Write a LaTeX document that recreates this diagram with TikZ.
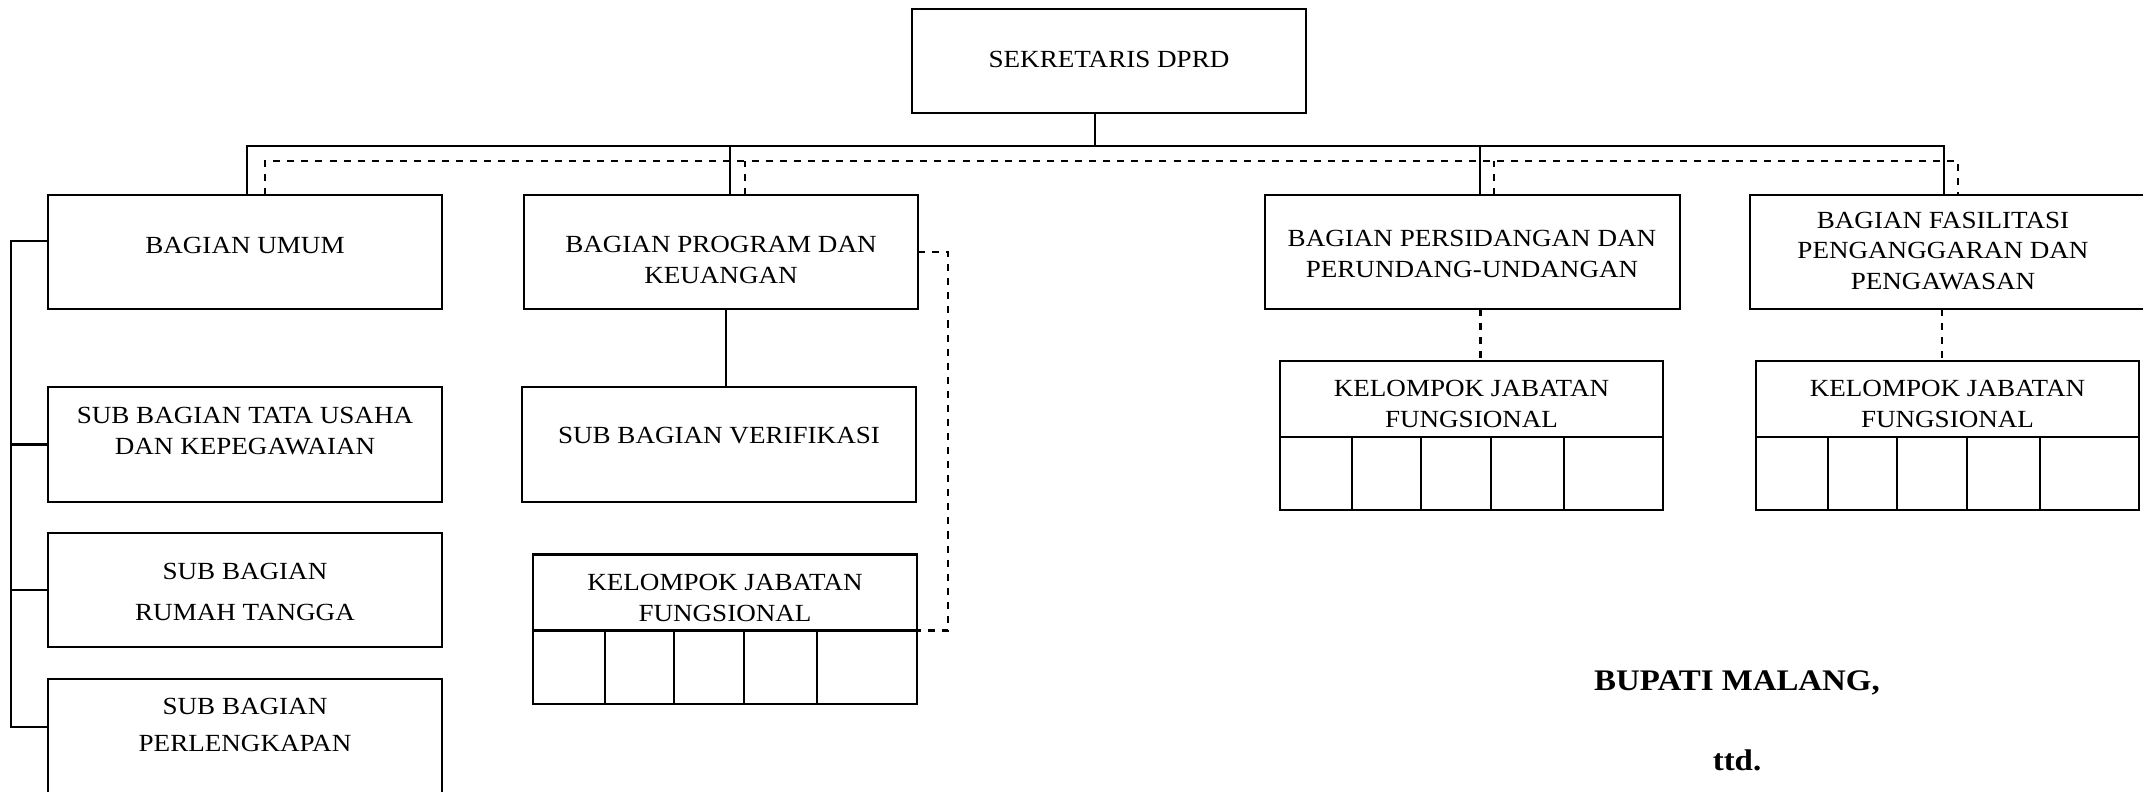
\documentclass[tikz,border=0pt]{standalone}
\usepackage{fontspec}
\setmainfont{Liberation Serif}[FakeStretch=1.1]
\begin{document}
\begin{tikzpicture}[x=0.01cm, y=-0.01cm, line width=0.6pt,
    box/.style={draw, inner sep=0pt, outer sep=0pt},
    txt/.style={inner sep=0pt, align=center, font=\fontsize{7}{8.8}\selectfont},
    tandatangan/.style={inner sep=0pt, font=\fontsize{8.5}{10}\selectfont\bfseries},
    garisputus/.style={dash pattern=on 2pt off 2pt}]
    \useasboundingbox (0,0) rectangle (2143,791);
    % kotak
    \node[box, minimum width=3.94cm, minimum height=1.04cm] (sek) at (1109,61) {};
    \node[box, minimum width=3.94cm, minimum height=1.14cm] (umum) at (245,252) {};
    \node[box, minimum width=3.94cm, minimum height=1.14cm] (prog) at (721,252) {};
    \node[box, minimum width=4.15cm, minimum height=1.14cm] (sidang) at (1472.5,252) {};
    \node[box, minimum width=4.00cm, minimum height=1.14cm] (fasil) at (1950,252) {};
    \node[box, minimum width=3.94cm, minimum height=1.15cm] (tata) at (245,444.5) {};
    \node[box, minimum width=3.94cm, minimum height=1.15cm] (verif) at (719,444.5) {};
    \node[box, minimum width=3.94cm, minimum height=1.14cm] (rumah) at (245,590) {};
    \node[box, minimum width=3.94cm, minimum height=1.22cm] (lengkap) at (245,740) {};
    \foreach \n/\x/\y in {kel1/725/592.5, kel2/1471.5/399, kel3/1947.5/399} {
        \node[box, minimum width=3.83cm, minimum height=0.76cm] (\n) at (\x,\y) {};
        \node[box, minimum width=3.83cm, minimum height=0.73cm, anchor=north] (r\n) at (\n.south) {};
        \node[txt] (t\n) at (\x,\y+5) {KELOMPOK JABATAN\\FUNGSIONAL};
        \foreach \d in {72,141,211,284}
            \draw (r\n.north west) ++(\d,0) -- ++(0,73);
    }
    % teks
    \node[txt] (tsek) at (1109,59) {SEKRETARIS DPRD};
    \node[txt] (tumum) at (245,245) {BAGIAN UMUM};
    \node[txt] (tprog) at (721,260) {BAGIAN PROGRAM DAN\\KEUANGAN};
    \node[txt] (tsidang) at (1472,254) {BAGIAN PERSIDANGAN DAN\\PERUNDANG-UNDANGAN};
    \node[txt] (tfasil) at (1943,251) {BAGIAN FASILITASI\\PENGANGGARAN DAN\\PENGAWASAN};
    \node[txt] (ttata) at (245,431) {SUB BAGIAN TATA USAHA\\DAN KEPEGAWAIAN};
    \node[txt] (tverif) at (719,436) {SUB BAGIAN VERIFIKASI};
    \node[txt] (trumah) at (245,592) {SUB BAGIAN\\[3pt]RUMAH TANGGA};
    \node[txt] (tlengkap) at (245,725) {SUB BAGIAN\\[1.5pt]PERLENGKAPAN};
    \node[tandatangan] (bupati) at (1737,683) {BUPATI MALANG,};
    \node[tandatangan] (ttd) at (1737,760) {ttd.};
    % garis komando
    \coordinate (bus) at (0,146);
    \coordinate (dbus) at (0,161);
    \draw ([xshift=-0.14cm]sek.south) -- ([xshift=-0.14cm]sek.south |- bus);
    \draw ([xshift=0.02cm]umum.north) |- ([xshift=-0.06cm]fasil.north |- bus) -- ([xshift=-0.06cm]fasil.north);
    \draw ([xshift=0.09cm]prog.north) -- ([xshift=0.09cm]prog.north |- bus);
    \draw ([xshift=0.075cm]sidang.north) -- ([xshift=0.075cm]sidang.north |- bus);
    \draw ([xshift=0.05cm]prog.south) -- ([xshift=0.05cm]prog.south |- verif.north);
    \draw ([yshift=0.11cm]umum.west) -- ++(-36.5,0) |- ([yshift=0.13cm]lengkap.west);
    \draw (tata.west) -- ++(-36.5,0);
    \draw (rumah.west) -- ++(-36.5,0);
    % garis koordinasi
    \draw[garisputus] ([xshift=0.2cm]umum.north) |- ([xshift=0.08cm]fasil.north |- dbus) -- ([xshift=0.08cm]fasil.north);
    \draw[garisputus] ([xshift=0.24cm]prog.north) -- ([xshift=0.24cm]prog.north |- dbus);
    \draw[garisputus] ([xshift=0.215cm]sidang.north) -- ([xshift=0.215cm]sidang.north |- dbus);
    \draw[garisputus] (prog.east) -- ++(30,0) |- (kel1.south east);
    \draw[garisputus] ([xshift=0.08cm]sidang.south) -- ([xshift=0.08cm]sidang.south |- kel2.north);
    \draw[garisputus] ([xshift=-0.08cm]fasil.south) -- ([xshift=-0.08cm]fasil.south |- kel3.north);
\end{tikzpicture}
\end{document}
